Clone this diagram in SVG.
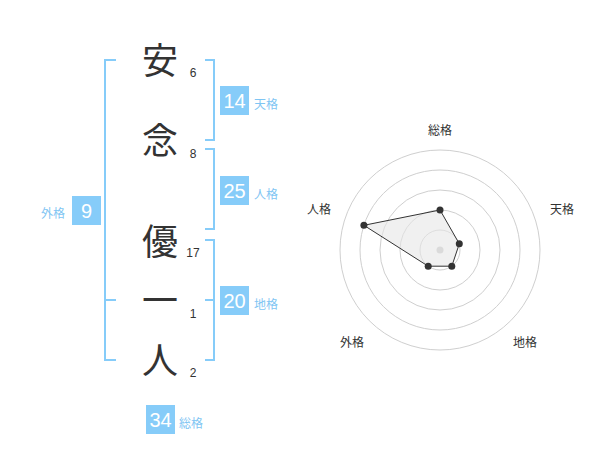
<svg xmlns="http://www.w3.org/2000/svg" width="600" height="470" viewBox="0 0 600 470">
<style>
.kanji{font-family:"Noto Sans CJK JP","Noto Sans CJK SC",sans-serif;font-size:36px;fill:#333;text-anchor:middle}
.num{font-family:"Liberation Sans",Arial,sans-serif;font-size:12px;fill:#333;text-anchor:middle}
.box{fill:#86ccf9}
.boxt{font-family:"Liberation Sans",Arial,sans-serif;font-size:20px;fill:#fff;text-anchor:middle}
.lab{font-family:"Noto Sans CJK JP",sans-serif;font-size:12px;fill:#7fc5f3}
.br{fill:none;stroke:#86ccf9;stroke-width:2}
.ring{fill:none;stroke:#cfcfcf;stroke-width:1}
.rl{font-family:"Noto Sans CJK JP",sans-serif;font-size:12px;fill:#333;text-anchor:middle}
.dot{fill:#333}
</style>
<rect width="600" height="470" fill="#fff"/>
<g id="connectors">
<path class="br" d="M116,60 H105 V360 H116 M105,300 H116"/>
<path class="br" d="M205,60 H214 V140 H205"/>
<path class="br" d="M205,149 H214 V229 H205"/>
<path class="br" d="M205,240 H214 V360 H205 M205,300 H214"/>
</g>
<g id="name">
<text class="kanji" x="160" y="74">安</text><text class="num" x="193" y="77">6</text>
<text class="kanji" x="160" y="154">念</text><text class="num" x="193" y="158">8</text>
<text class="kanji" x="160" y="255">優</text><text class="num" x="193" y="257">17</text>
<text class="kanji" x="160" y="314">一</text><text class="num" x="193" y="318">1</text>
<text class="kanji" x="160" y="374">人</text><text class="num" x="193" y="377">2</text>
</g>
<g id="tenkaku"><rect class="box" x="220" y="86" width="29" height="29"/><text class="boxt" x="234.5" y="108">14</text><text class="lab" x="254" y="108.5">天格</text></g>
<g id="jinkaku"><rect class="box" x="220" y="176" width="29" height="29"/><text class="boxt" x="234.5" y="198">25</text><text class="lab" x="254" y="198.5">人格</text></g>
<g id="chikaku"><rect class="box" x="220" y="286" width="29" height="29"/><text class="boxt" x="234.5" y="308">20</text><text class="lab" x="254" y="308.5">地格</text></g>
<g id="gaikaku"><rect class="box" x="72" y="196" width="29" height="29"/><text class="boxt" x="86.5" y="218">9</text><text class="lab" x="41" y="218">外格</text></g>
<g id="soukaku"><rect class="box" x="146" y="405" width="29" height="29"/><text class="boxt" x="160.5" y="427">34</text><text class="lab" x="179" y="427.5">総格</text></g>
<g id="radar">
<circle class="ring" cx="440" cy="250" r="20"/>
<circle class="ring" cx="440" cy="250" r="40"/>
<circle class="ring" cx="440" cy="250" r="60"/>
<circle class="ring" cx="440" cy="250" r="80"/>
<circle class="ring" cx="440" cy="250" r="100"/>
<circle cx="440" cy="250" r="3.5" fill="#c8c8c8"/>
<polygon points="440,210 459.3,243.8 451.8,266.2 428.2,266.2 363.9,225.3" fill="#e6e6e6" fill-opacity="0.6" stroke="#333" stroke-width="1"/>
<circle class="dot" cx="440" cy="210" r="3.5"/>
<circle class="dot" cx="459.3" cy="243.8" r="3.5"/>
<circle class="dot" cx="451.8" cy="266.2" r="3.5"/>
<circle class="dot" cx="428.2" cy="266.2" r="3.5"/>
<circle class="dot" cx="363.9" cy="225.3" r="3.5"/>
<text class="rl" x="440" y="134.5">総格</text>
<text class="rl" x="562" y="213.5">天格</text>
<text class="rl" x="525" y="346.5">地格</text>
<text class="rl" x="352" y="346.5">外格</text>
<text class="rl" x="319" y="213.5">人格</text>
</g>
</svg>
